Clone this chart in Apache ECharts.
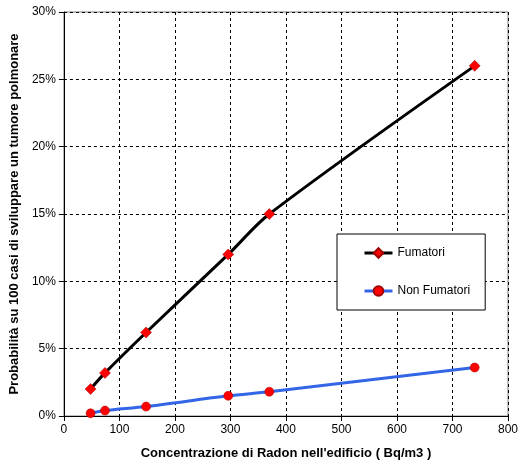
<!DOCTYPE html>
<html><head><meta charset="utf-8">
<script src="https://cdn.jsdelivr.net/npm/echarts@6/dist/echarts.min.js"></script>
<style>html,body{margin:0;padding:0;background:#fff}#c{width:526px;height:469px}</style>
</head><body><div id="c"></div>
<script>
const radon = [48, 74, 148, 296, 370, 740];
const fumatori = [2.0, 3.2, 6.2, 12.0, 15.0, 26.0];
const nonFumatori = [0.2, 0.4, 0.7, 1.5, 1.8, 3.6];
const seriesNames = ['Fumatori', 'Non Fumatori'];

const font = 'Liberation Sans, Arial, sans-serif';
const chart = echarts.init(document.getElementById('c'));
chart.setOption({
  backgroundColor: '#fff',
  animation: false,
  grid: {left: 62, right: 18, top: 12, bottom: 53, show: true, borderColor: '#808080', borderWidth: 1},
  legend: {
    orient: 'vertical', left: 337, top: 234,
    padding: [13, 15, 13, 26], itemGap: 26, itemWidth: 28, itemHeight: 12,
    backgroundColor: '#fff', borderColor: '#000', borderWidth: 1, borderRadius: 0,
    lineStyle: {width: 3},
    textStyle: {fontFamily: font, fontSize: 12, color: '#000'},
    data: seriesNames
  },
  xAxis: {
    type: 'value', min: 0, max: 800, interval: 100,
    name: "Concentrazione di Radon nell'edificio ( Bq/m3 )",
    nameLocation: 'middle', nameGap: 31,
    nameTextStyle: {fontFamily: font, fontSize: 13, fontWeight: 'bold', color: '#000'},
    axisLine: {lineStyle: {color: '#000'}},
    axisTick: {show: true, length: 5, lineStyle: {color: '#000'}},
    axisLabel: {fontFamily: font, fontSize: 12, color: '#000', margin: 8},
    splitLine: {show: true, lineStyle: {color: '#000', type: [3, 3], width: 1}}
  },
  yAxis: {
    type: 'value', min: 0, max: 30, interval: 5,
    name: 'Probabilità su 100 casi di sviluppare un tumore polmonare',
    nameLocation: 'middle', nameGap: 42,
    nameTextStyle: {fontFamily: font, fontSize: 13, fontWeight: 'bold', color: '#000'},
    axisLine: {show: true, lineStyle: {color: '#000'}},
    axisTick: {show: true, length: 5, lineStyle: {color: '#000'}},
    axisLabel: {fontFamily: font, fontSize: 12, color: '#000', margin: 8, formatter: v => v + '%'},
    splitLine: {show: true, lineStyle: {color: '#000', type: [3, 3], width: 1}}
  },
  series: [
    {
      name: seriesNames[0], type: 'line', smooth: 0.3,
      data: radon.map((x, i) => [x, fumatori[i]]),
      lineStyle: {color: '#000', width: 3},
      symbol: 'diamond', symbolSize: 11,
      itemStyle: {color: '#FF0000', borderColor: '#A00000', borderWidth: 0.5},
      z: 3
    },
    {
      name: seriesNames[1], type: 'line', smooth: 0.3,
      data: radon.map((x, i) => [x, nonFumatori[i]]),
      lineStyle: {color: '#3366E6', width: 3},
      symbol: 'circle', symbolSize: 9,
      itemStyle: {color: '#FF0000', borderColor: '#A00000', borderWidth: 0.5},
      z: 3
    }
  ]
});
</script></body></html>
